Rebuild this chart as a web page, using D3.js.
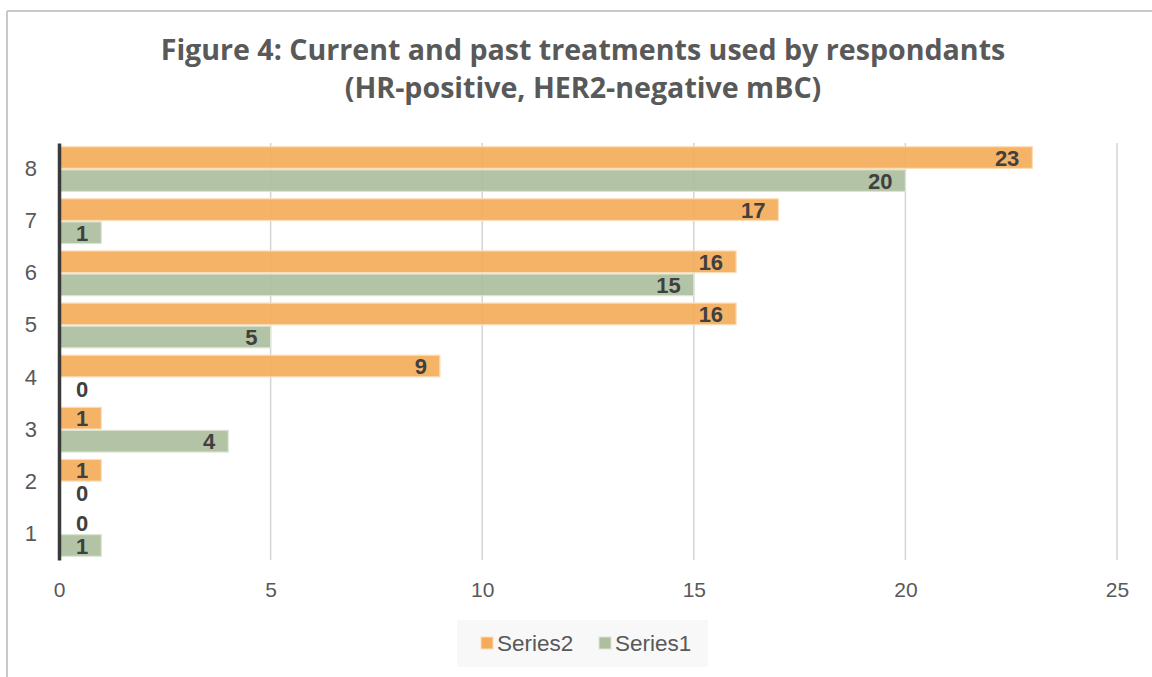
<!DOCTYPE html>
<html>
<head>
<meta charset="utf-8">
<script src="https://cdn.jsdelivr.net/npm/d3@7"></script>
<style>
  html, body { margin: 0; padding: 0; background: #fff; }
  svg { display: block; font-family: "Liberation Sans", Arial, sans-serif; }
</style>
</head>
<body>
<svg id="chart" width="1152" height="677"></svg>
<script>
// Categories (bottom to top on the axis)
const categories = ["1", "2", "3", "4", "5", "6", "7", "8"];
// Series values per category
const series2 = [0, 1, 1, 9, 16, 16, 17, 23];
const series1 = [1, 0, 4, 0, 5, 15, 1, 20];
const seriesNames = ["Series2", "Series1"];
const xTicks = [0, 5, 10, 15, 20, 25];
const titleLines = [
  "Figure 4: Current and past treatments used by respondants",
  "(HR-positive, HER2-negative mBC)"
];

const colors = { Series2: "#F4AC5B", Series1: "#ADBF9E" };
const strokes = { Series2: "#FBDDB8", Series1: "#DCE5D3" };

const svg = d3.select("#chart");
const W = 1152, H = 677;

// Outer frame (top and left edges)
svg.append("line").attr("x1", 7).attr("x2", W).attr("y1", 11).attr("y2", 11)
  .attr("stroke", "#c9c9c9").attr("stroke-width", 2);
svg.append("line").attr("x1", 7).attr("x2", 7).attr("y1", 11).attr("y2", H)
  .attr("stroke", "#c9c9c9").attr("stroke-width", 2);

// Title
svg.append("g").selectAll("text").data(titleLines).join("text")
  .attr("x", 583).attr("y", (d, i) => 60 + i * 38)
  .attr("text-anchor", "middle")
  .attr("font-family", "'Open Sans', 'Liberation Sans', sans-serif")
  .attr("font-weight", "bold").attr("font-size", 28.6)
  .attr("fill", "#595959")
  .text(d => d);

const plot = { left: 59, right: 1117, top: 143, bottom: 560 };

const x = d3.scaleLinear().domain([0, 25]).range([plot.left, plot.right]);
const y = d3.scaleBand().domain(categories.slice().reverse())
  .range([plot.top, plot.bottom]).paddingInner(0).paddingOuter(0);
const sub = d3.scaleBand().domain(seriesNames)
  .range([0, y.bandwidth()]).paddingOuter(0.16).paddingInner(0.06);

// Gridlines
svg.append("g").selectAll("line").data(xTicks.filter(t => t > 0)).join("line")
  .attr("x1", d => x(d)).attr("x2", d => x(d))
  .attr("y1", plot.top).attr("y2", plot.bottom)
  .attr("stroke", "#d4d4d4").attr("stroke-width", 1.5);

// Bars
const rows = categories.map((c, i) => ({ cat: c, Series2: series2[i], Series1: series1[i] }));
const groups = svg.append("g").selectAll("g").data(rows).join("g")
  .attr("transform", d => `translate(0,${y(d.cat)})`);

groups.selectAll("rect")
  .data(d => seriesNames.map(s => ({ s, v: d[s] })).filter(e => e.v > 0))
  .join("rect")
  .attr("x", x(0))
  .attr("y", e => sub(e.s))
  .attr("width", e => x(e.v) - x(0))
  .attr("height", sub.bandwidth())
  .attr("fill", e => colors[e.s])
  .attr("fill-opacity", 0.92)
  .attr("stroke", e => strokes[e.s])
  .attr("stroke-width", 1.2);

// Value labels at inside end
groups.selectAll("text")
  .data(d => seriesNames.map(s => ({ s, v: d[s] })))
  .join("text")
  .attr("x", e => x(Math.max(e.v, 1)) - 13)
  .attr("y", e => sub(e.s) + sub.bandwidth() / 2)
  .attr("dy", "0.37em")
  .attr("text-anchor", "end")
  .attr("font-weight", "bold").attr("font-size", 22)
  .attr("fill", "#404040")
  .text(e => e.v);

// Value axis labels
const xAxis = svg.append("g").attr("transform", `translate(0,${plot.bottom})`)
  .call(d3.axisBottom(x).tickValues(xTicks).tickSize(0).tickPadding(22));
xAxis.select(".domain").remove();
xAxis.selectAll("text").attr("font-size", 21).attr("fill", "#595959")
  .attr("font-family", "'Liberation Sans', Arial, sans-serif");

// Category axis
const yAxis = svg.append("g").attr("transform", `translate(${plot.left},0)`)
  .call(d3.axisLeft(y).tickSize(0).tickPadding(22));
yAxis.select(".domain").attr("stroke", "#3a3a3a").attr("stroke-width", 3.5);
yAxis.selectAll("text").attr("font-size", 22).attr("fill", "#595959")
  .attr("font-family", "'Liberation Sans', Arial, sans-serif");

// Legend
const legend = svg.append("g");
legend.append("rect").attr("x", 457).attr("y", 620).attr("width", 251).attr("height", 47)
  .attr("fill", "#f8f8f8");
const legendX = [481, 599];
const items = legend.selectAll("g.item").data(seriesNames).join("g")
  .attr("class", "item")
  .attr("transform", (d, i) => `translate(${legendX[i]},637)`);
items.append("rect").attr("width", 12).attr("height", 12)
  .attr("fill", d => colors[d]).attr("stroke", d => strokes[d]);
items.append("text").attr("x", 16).attr("y", 6).attr("dy", "0.36em")
  .attr("font-size", 22.5).attr("fill", "#595959")
  .text(d => d);
</script>
</body>
</html>
